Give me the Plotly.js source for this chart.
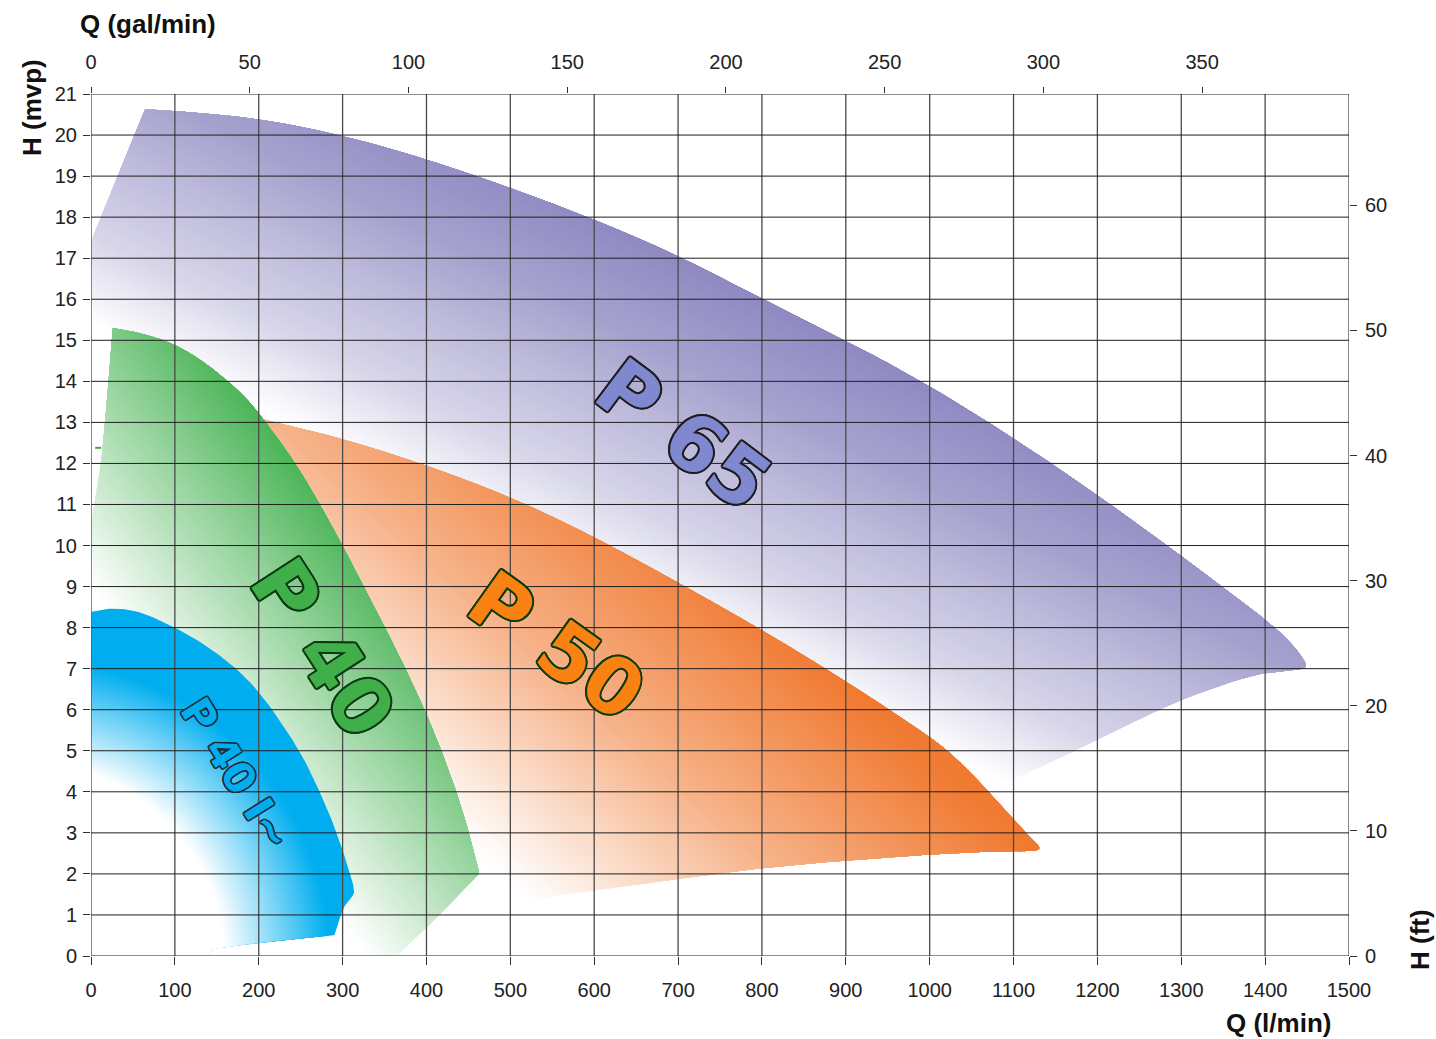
<!DOCTYPE html>
<html><head><meta charset="utf-8">
<script src="https://cdn.plot.ly/plotly-3.0.1.min.js"></script>
<style>html,body{margin:0;padding:0;background:#fff}</style>
</head><body><div id="chart" style="width:1436px;height:1039px"></div>
<script>
// ---------------- data (Q in l/min, H in m) : outlines of the operating fields ----------------
const p65Q = [0, 0, 64, 100, 200, 300, 400, 500, 600, 700, 800, 900, 1000, 1100, 1200, 1300, 1370, 1421, 1445, 1450, 1446, 1440, 1397, 1350, 1298, 1250, 1199, 1150, 1099, 1084, 1000, 800, 500, 200];
const p65H = [0, 17.4, 20.63, 20.59, 20.42, 20.0, 19.42, 18.72, 17.95, 17.08, 16.0, 15.0, 13.9, 12.62, 11.24, 9.75, 8.67, 7.87, 7.28, 7.06, 7.0, 6.98, 6.92, 6.62, 6.24, 5.78, 5.26, 4.77, 4.29, 4.21, 3.6, 2.5, 1.2, 0.3];

const p50Q = [200, 300, 400, 500, 600, 700, 800, 900, 1000, 1024, 1060, 1099, 1123, 1132, 1130, 1120, 1099, 1024, 900, 800, 700, 600, 550, 450, 380, 300, 250];
const p50H = [13.1, 12.62, 11.96, 11.2, 10.22, 9.1, 7.95, 6.7, 5.35, 4.96, 4.25, 3.31, 2.83, 2.66, 2.58, 2.55, 2.57, 2.51, 2.33, 2.15, 1.88, 1.6, 1.46, 1.15, 0.8, 5, 10];

const p40Q = [0, 3, 13, 26, 60, 98, 130, 162, 185, 203, 243, 273, 300, 325, 351, 375, 398, 418, 436, 451, 463, 448, 433, 410, 384, 365, 0];
const p40H = [10.5, 10.9, 11.9, 15.3, 15.18, 14.93, 14.55, 14.03, 13.6, 13.15, 12.05, 11.0, 10.0, 9.0, 8.0, 7.0, 6.0, 5.0, 4.0, 3.0, 2.02, 1.7, 1.36, 0.9, 0.39, 0, 0];

const p40mQ = [0, 26, 60, 102, 135, 166, 201, 249, 266, 281, 295, 305, 312, 315, 310, 305, 300, 297, 291, 260, 225, 180, 146, 140, 0];
const p40mH = [8.38, 8.5, 8.4, 7.99, 7.6, 7.14, 6.48, 5.02, 4.3, 3.63, 2.9, 2.27, 1.8, 1.53, 1.42, 1.32, 1.12, 0.95, 0.51, 0.45, 0.39, 0.28, 0.19, 0, 0];

const markQ = [5, 12];
const markH = [12.38, 12.38];

const seriesNames = ['P 65', 'P 50', 'P 40', 'P 40 I~'];

// axis ticks
const qTicks = [0,100,200,300,400,500,600,700,800,900,1000,1100,1200,1300,1400,1500];
const hTicks = [0,1,2,3,4,5,6,7,8,9,10,11,12,13,14,15,16,17,18,19,20,21];
const galTicks = [0,50,100,150,200,250,300,350];
const ftTicks = [0,10,20,30,40,50,60];

// ---------------- layout geometry ----------------
const W = 1436, H = 1039;
const M = {l: 91, r: 87, t: 94, b: 83};
const PW = W - M.l - M.r, PH = H - M.t - M.b;
const XR = [0, 1500], YR = [0, 21];
const GAL = 3.785411784, FT = 3.28084;

const toPx = (q, h) => [(q - XR[0]) / (XR[1] - XR[0]) * PW, (h - YR[0]) / (YR[1] - YR[0]) * PH];
const toData = (p) => [XR[0] + p[0] / PW * (XR[1] - XR[0]), YR[0] + p[1] / PH * (YR[1] - YR[0])];

function hex2rgb(h){ h=h.replace('#',''); return [parseInt(h.substr(0,2),16),parseInt(h.substr(2,2),16),parseInt(h.substr(4,2),16)]; }
function mix(c0, c1, f){ const a=hex2rgb(c0), b=hex2rgb(c1); return 'rgb(' + a.map((v,i)=>Math.round(v+(b[i]-v)*f)).join(',') + ')'; }
function ramp(stops, s){
  s = Math.max(0, Math.min(1, s));
  for (let i = 1; i < stops.length; i++){
    if (s <= stops[i][0]){ const a = stops[i-1], b = stops[i]; return a[1] + (b[1]-a[1]) * (s - a[0]) / (b[0] - a[0]); }
  }
  return stops[stops.length-1][1];
}

// smooth outline: closed uniform cubic B-spline over the outline points (pixel space); corner points kept sharp
function smoothOutline(Q, Hh, corners){
  const cs = new Set(corners), C = [];
  Q.forEach((q,i) => { const p = toPx(q, Hh[i]); C.push(p); if (cs.has(i)) { C.push(p); C.push(p); } });
  const m = C.length, out = [], steps = 10;
  for (let j = 0; j < m; j++){
    const P0 = C[(j-1+m)%m], P1 = C[j], P2 = C[(j+1)%m], P3 = C[(j+2)%m];
    for (let k = 0; k < steps; k++){
      const t = k / steps, t2 = t*t, t3 = t2*t;
      const b0 = (1-t)*(1-t)*(1-t)/6, b1 = (3*t3 - 6*t2 + 4)/6, b2 = (-3*t3 + 3*t2 + 3*t + 1)/6, b3 = t3/6;
      out.push([b0*P0[0]+b1*P1[0]+b2*P2[0]+b3*P3[0], b0*P0[1]+b1*P1[1]+b2*P2[1]+b3*P3[1]]);
    }
  }
  return out;
}

function clipHalf(poly, f){
  const out = [];
  for (let i = 0; i < poly.length; i++){
    const P = poly[i], Q = poly[(i+1) % poly.length];
    const fp = f(P), fq = f(Q);
    if (fp >= 0) out.push(P);
    if ((fp >= 0) !== (fq >= 0)){
      const t = fp / (fp - fq);
      out.push([P[0] + t*(Q[0]-P[0]), P[1] + t*(Q[1]-P[1])]);
    }
  }
  return out;
}

function band(poly, color){
  const d = poly.map(toData);
  return {type:'scatter', mode:'lines', x:d.map(p=>p[0]), y:d.map(p=>p[1]),
    fill:'toself', fillcolor:color, line:{width:0, color:color}, hoverinfo:'skip', showlegend:false};
}

const N = 64;
function linearGradientTraces(poly, from, to, c0, c1, stops){
  const a = toPx(from[0], from[1]), b = toPx(to[0], to[1]);
  const d = [b[0]-a[0], b[1]-a[1]], dd = d[0]*d[0] + d[1]*d[1];
  const tr = [band(poly, c0)];
  for (let k = 0; k <= N; k++){
    const s = k / N;
    const cp = clipHalf(poly, p => ((p[0]-a[0])*d[0] + (p[1]-a[1])*d[1]) / dd - s);
    if (cp.length >= 3) tr.push(band(cp, mix(c0, c1, ramp(stops, Math.min(1, s + 0.5/N)))));
  }
  return tr;
}

function radialGradientTraces(poly, center, r0, r1, c0, c1){
  const c = toPx(center[0], center[1]);
  const tr = [band(poly, c1)];
  const nSeg = 120;
  for (let k = N; k >= 0; k--){
    const r = r0 + (r1 - r0) * k / N;
    let cp = poly;
    for (let j = 0; j < nSeg && cp.length >= 3; j++){
      const ang = 2*Math.PI*j/nSeg, nx = Math.cos(ang), ny = Math.sin(ang);
      cp = clipHalf(cp, p => r - ((p[0]-c[0])*nx + (p[1]-c[1])*ny));
    }
    if (cp.length >= 3) tr.push(band(cp, mix(c0, c1, Math.max(0, (k - 0.5)/N))));
  }
  return tr;
}

const LIN = [[0,0],[1,1]];
const ORANGE_RAMP = [[0,0],[0.5,0.57],[1,1]];
const PURPLE_RAMP = [[0,0],[0.24,0.34],[0.48,0.56],[0.69,0.77],[0.93,0.94],[1,1]];

const traces = [];
traces.push(...linearGradientTraces(smoothOutline(p65Q, p65H, [0,1,2,29,30,31,32,33]), [1084, 4.21], [1264, 11.5], '#ffffff', '#8b86c0', PURPLE_RAMP));
traces.push(...linearGradientTraces(smoothOutline(p50Q, p50H, [0,23,24,25,26]), [491, 1.92], [788, 8.69], '#ffffff', '#f07a32', ORANGE_RAMP));
traces.push(...linearGradientTraces(smoothOutline(p40Q, p40H, [0,3,20,25,26]), [288, 1.155], [536, 4.955], '#ffffff', '#3cae49', LIN));
traces.push(...radialGradientTraces(smoothOutline(p40mQ, p40mH, [0,18,22,23,24]), [-73, -0.1], 195, 300, '#ffffff', '#00aeef'));
traces.push({type:'scatter', mode:'lines', x:markQ, y:markH, line:{color:'#3aa845', width:2}, hoverinfo:'skip', showlegend:false});
traces.push({type:'scatter', mode:'lines', x:[], y:[], xaxis:'x2', yaxis:'y2', hoverinfo:'skip', showlegend:false});

// grid lines above the fields
const shapes = [];
qTicks.forEach(q => shapes.push({type:'line', xref:'x', yref:'y', x0:q, x1:q, y0:YR[0], y1:YR[1], layer:'above', line:{color:'#4a4a4a', width:1.3}}));
hTicks.forEach(h => shapes.push({type:'line', xref:'x', yref:'y', x0:XR[0], x1:XR[1], y0:h, y1:h, layer:'above', line:{color:'#1e1e1e', width:1}}));

function outline(c, w){
  const s = [];
  for (let a = 0; a < 360; a += 30){
    s.push((w*Math.cos(a*Math.PI/180)).toFixed(2) + 'px ' + (w*Math.sin(a*Math.PI/180)).toFixed(2) + 'px 0 ' + c);
  }
  return s.join(', ');
}
const LF = 'DejaVu Sans, sans-serif';
const TF = 'Liberation Sans, Arial, sans-serif';

const annotations = [
  {text: seriesNames[0], x: 707, y: 12.7, textangle: 37, font:{family:LF, size:78, weight:700, color:'#8089d0', shadow: outline('#1e1e1e', 2)}},
  {text: seriesNames[1], x: 555, y: 7.55, textangle: 35.5, font:{family:LF, size:78, weight:700, color:'#f98213', shadow: outline('#0d3b0d', 2)}},
  {text: seriesNames[2], x: 276, y: 7.5, textangle: 57, font:{family:LF, size:78, weight:700, color:'#40af4a', shadow: outline('#0c3a12', 2)}},
  {text: seriesNames[3], x: 173, y: 4.45, textangle: 58, font:{family:LF, size:42, weight:700, color:'#00aeef', shadow: outline('#1d2b36', 1.5)}}
].map(a => Object.assign({xref:'x', yref:'y', showarrow:false, xanchor:'center', yanchor:'middle'}, a));

annotations.push(
  {text:'Q (gal/min)', xref:'paper', yref:'paper', x:(78-M.l)/PW, y:(H-M.b-24)/PH, xanchor:'left', yanchor:'middle', showarrow:false, font:{family:TF, size:26, weight:700, color:'#111'}},
  {text:'H (mvp)', xref:'paper', yref:'paper', x:(32-M.l)/PW, y:(H-M.b-108)/PH, xanchor:'center', yanchor:'middle', textangle:-90, showarrow:false, font:{family:TF, size:26, weight:700, color:'#111'}},
  {text:'Q (l/min)', xref:'paper', yref:'paper', x:(1278-M.l)/PW, y:(H-M.b-1023)/PH, xanchor:'center', yanchor:'middle', showarrow:false, font:{family:TF, size:26, weight:700, color:'#111'}},
  {text:'H (ft)', xref:'paper', yref:'paper', x:(1420-M.l)/PW, y:(H-M.b-940)/PH, xanchor:'center', yanchor:'middle', textangle:-90, showarrow:false, font:{family:TF, size:26, weight:700, color:'#111'}}
);

const tickFont = {family:TF, size:20, color:'#222'};
const axBase = {showgrid:false, zeroline:false, showline:false, ticks:'outside', tickcolor:'#333', tickwidth:1, tickfont:tickFont, fixedrange:true};

const layout = {
  width: W, height: H,
  margin: {l:M.l, r:M.r, t:M.t, b:M.b, pad:0},
  paper_bgcolor:'#ffffff', plot_bgcolor:'#ffffff',
  showlegend:false,
  xaxis: Object.assign({}, axBase, {range:XR, tickvals:qTicks, ticklen:8, ticklabelstandoff:8}),
  yaxis: Object.assign({}, axBase, {range:YR, tickvals:hTicks, ticklen:7, ticklabelstandoff:2}),
  xaxis2: Object.assign({}, axBase, {range:[XR[0]/GAL, XR[1]/GAL], tickvals:galTicks, ticklen:6, overlaying:'x', side:'top', anchor:'y', ticklabelstandoff:10}),
  yaxis2: Object.assign({}, axBase, {range:[YR[0]*FT, YR[1]*FT], tickvals:ftTicks, ticklen:7, overlaying:'y', side:'right', anchor:'x', ticklabelstandoff:4}),
  shapes: shapes,
  annotations: annotations
};

Plotly.newPlot('chart', traces, layout, {staticPlot:true, displayModeBar:false});
</script>
</body></html>
